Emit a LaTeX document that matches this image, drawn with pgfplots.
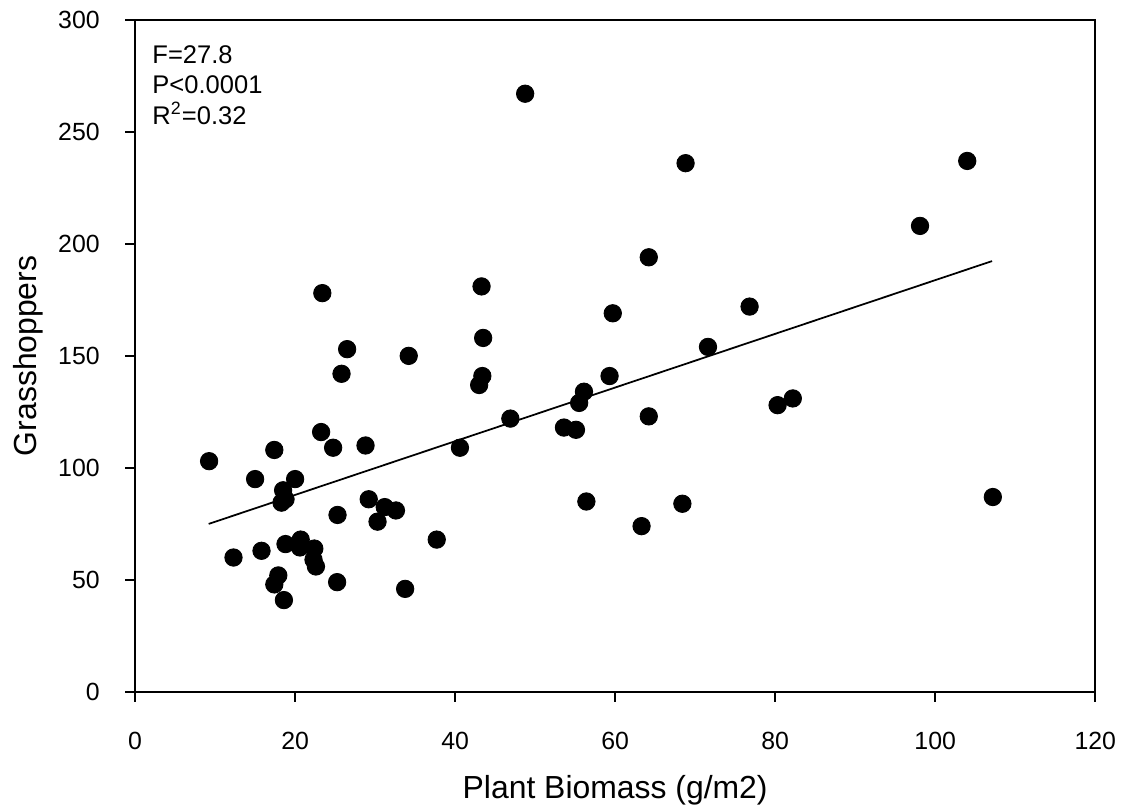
\documentclass[border=0pt]{standalone}
\usepackage{fontspec}
\setmainfont{Liberation Sans}
\usepackage{pgfplots}
\pgfplotsset{compat=1.18}

\begin{document}
\begin{tikzpicture}
\begin{axis}[
    scale only axis,
    width=436.4pt,
    height=305.5pt,
    xmin=0, xmax=120,
    ymin=0, ymax=300,
    xtick={0,20,...,120},
    ytick={0,50,...,300},
    xtick pos=bottom,
    ytick pos=left,
    tick align=outside,
    major tick length=4.5pt,
    axis line style={line width=0.9pt},
    every tick/.style={black, line width=0.9pt},
    /pgf/number format/assume math mode=true,
    tick label style={font=\fontsize{11.3}{13}\selectfont},
    xticklabel style={inner sep=0pt, anchor=north, yshift=-13.6pt},
    yticklabel style={inner sep=0pt, anchor=east, xshift=-11.4pt},
    label style={font=\fontsize{14.5}{17}\selectfont},
    xlabel={Plant Biomass (g/m2)},
    ylabel={Grasshoppers},
    xlabel style={at={(axis description cs:0.5,-0.1578)}, anchor=base},
    ylabel style={at={(axis description cs:-0.1031,0.5)}, anchor=base},
]
% observed points
\addplot[only marks, mark=*, mark size=3.95pt, black] coordinates {
  (9.25,103) (12.3,60) (15.0,95) (15.8,63) (17.4,108) (17.4,48)
  (17.9,52) (18.5,90) (18.3,84.5) (18.8,86) (18.8,66) (18.6,41)
  (20.0,95) (20.7,68) (20.6,64.5) (22.4,64) (22.3,59) (22.6,56)
  (23.25,116) (23.4,178) (24.75,109) (25.3,79) (25.25,49) (25.8,142)
  (26.5,153) (28.8,110) (29.2,86) (30.3,76) (31.2,82.5) (32.6,81)
  (33.75,46) (34.2,150) (37.7,68) (40.6,109) (43.0,137) (43.4,141)
  (43.5,158) (43.3,181) (46.9,122) (48.75,267) (53.6,118) (55.1,117)
  (55.5,129) (56.1,134) (56.4,85) (59.3,141) (59.7,169) (63.3,74)
  (64.2,123) (64.2,194) (68.4,84) (68.8,236) (71.6,154) (76.8,172)
  (80.3,128) (82.2,131) (98.1,208) (104.0,237) (107.2,87)
};
% regression line
\addplot[black, line width=0.8pt] coordinates {(9.2,75) (107.1,192.3)};
\node[anchor=north west, inner sep=0pt, align=left, xshift=7.7pt, yshift=-11.4pt,
      font=\fontsize{11.6}{13.9}\selectfont] at (rel axis cs:0,1)
  {F=27.8\\P<0.0001\\R\textsuperscript{2}=0.32};
\end{axis}
\pgfresetboundingbox
\path[use as bounding box] (-61.4pt,-53.6pt) rectangle (448.1pt,314.5pt);
\end{tikzpicture}
\end{document}
